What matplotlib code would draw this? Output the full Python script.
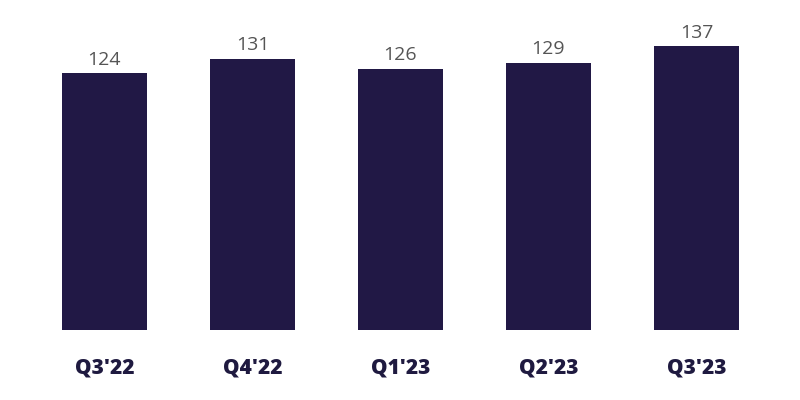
import matplotlib
matplotlib.use("Agg")
import matplotlib.pyplot as plt

categories = ["Q3'22", "Q4'22", "Q1'23", "Q2'23", "Q3'23"]
values = [124, 131, 126, 129, 137]

bar_color = "#211845"
fig = plt.figure(figsize=(8, 4), dpi=100)
ax = fig.add_axes([0.038, 0.175, 0.925, 0.8])
x = range(len(categories))
bars = ax.bar(x, values, width=0.574, color=bar_color)
ax.set_xlim(-0.5, len(categories) - 0.5)
ax.set_ylim(0, 154.5)
for xi, v in zip(x, values):
    ax.text(xi, v + 2.2, str(v), ha="center", va="bottom", fontsize=14,
            color="#555555", family="Open Sans", fontweight="normal")
ax.set_xticks(list(x))
ax.set_xticklabels(categories, fontsize=15, fontweight="heavy", color="#1f1a40", family="Open Sans")
ax.tick_params(axis="x", length=0, pad=20)
ax.set_yticks([])
for s in ax.spines.values():
    s.set_visible(False)
fig.savefig("out.png", dpi=100)
